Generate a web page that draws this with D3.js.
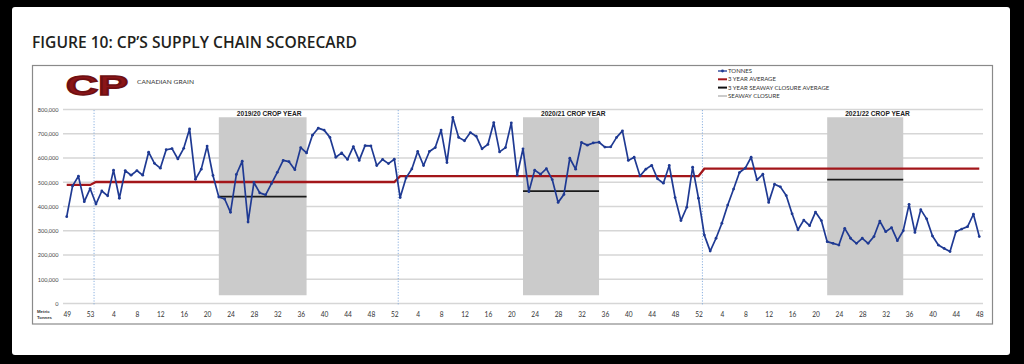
<!DOCTYPE html>
<html><head><meta charset="utf-8">
<script src="https://cdn.jsdelivr.net/npm/d3@7"></script>
<style>html,body{margin:0;padding:0;background:#000;}svg{display:block;}</style>
</head><body>
<svg id="chart" width="1024" height="364"></svg>
<script>
// ---- DATA ----
const weeks = [].concat(d3.range(49, 54), d3.range(1, 53), d3.range(1, 53), d3.range(1, 49));
const tonnes = [
  358000,485000,525000,420000,474000,410000,464000,444000,550000,434000,548000,529000,548000,529000,624000,578000,
  558000,634000,639000,596000,640000,720000,512000,554000,649000,528000,439000,431000,376000,532000,587000,336000,
  499000,456000,448000,494000,541000,590000,585000,552000,643000,621000,694000,723000,715000,685000,603000,621000,
  594000,647000,590000,651000,650000,569000,594000,577000,595000,437000,518000,555000,627000,569000,627000,
  643000,715000,581000,767000,685000,671000,705000,690000,638000,656000,746000,625000,643000,745000,529000,638000,
  461000,550000,533000,556000,511000,417000,450000,599000,554000,664000,653000,662000,665000,645000,646000,
  685000,712000,590000,603000,526000,554000,570000,514000,496000,569000,437000,342000,397000,562000,434000,282000,
  216000,269000,331000,406000,472000,540000,558000,603000,510000,533000,417000,492000,481000,445000,
  370000,304000,344000,321000,377000,342000,255000,248000,241000,310000,269000,248000,269000,248000,276000,340000,
  296000,313000,259000,300000,409000,293000,387000,349000,278000,241000,227000,214000,296000,307000,317000,368000,276000
];
// 3 year average per period: [first index, last index, value]
const avgPeriods = [[0, 4, 489000], [5, 56, 501000], [57, 108, 525000], [109, 156, 556000]];
// crop years: first index of week 1 in each crop year
const cropYearStart = [5, 57, 109];
const cropYearLabels = ["2019/20 CROP YEAR", "2020/21 CROP YEAR", "2021/22 CROP YEAR"];
// seaway closure (weeks within each crop year) and its 3 year average
const seawayStartWeek = [22, 22, 22];
const seawayEndWeek = [37, 35, 35];
const seawayAvg = [441000, 463000, 511000];
const seawayBandTop = 768000, seawayBandBottom = 34000;
const yTicks = [0, 100000, 200000, 300000, 400000, 500000, 600000, 700000, 800000];
const legendItems = ["TONNES", "3 YEAR AVERAGE", "3 YEAR SEAWAY CLOSURE AVERAGE", "SEAWAY CLOSURE"];

// ---- DRAW ----
const svg = d3.select("#chart");
const BLUE = "#1f3a93", RED = "#a3161a", GRAY = "#cbcbcb";

svg.append("rect").attr("x", 0).attr("y", 0).attr("width", 1024).attr("height", 364).attr("fill", "#000");
svg.append("rect").attr("x", 12).attr("y", 7).attr("width", 998).attr("height", 348).attr("rx", 3).attr("fill", "#fff");

svg.append("text").attr("x", 32).attr("y", 48)
  .attr("font-family", "Open Sans, Lato, sans-serif").attr("font-weight", 600).attr("font-size", 15.5)
  .attr("fill", "#231f20").attr("textLength", 325).attr("lengthAdjust", "spacingAndGlyphs")
  .text("FIGURE 10: CP\u2019S SUPPLY CHAIN SCORECARD");

svg.append("rect").attr("x", 32.5).attr("y", 65.5).attr("width", 960).attr("height", 258.5)
  .attr("fill", "#fff").attr("stroke", "#8a8a8a").attr("stroke-width", 1.2);

// logo
svg.append("text").attr("x", 66).attr("y", 95)
  .attr("font-family", "Liberation Sans, Arial, sans-serif").attr("font-weight", 700).attr("font-size", 28)
  .attr("fill", "#8a1518").attr("stroke", "#6e0f12").attr("stroke-width", 1.6).attr("stroke-linejoin", "miter")
  .attr("textLength", 62).attr("lengthAdjust", "spacingAndGlyphs").text("CP");
svg.append("text").attr("x", 137).attr("y", 84)
  .attr("font-family", "Lato, sans-serif").attr("font-size", 6.5).attr("fill", "#333")
  .attr("textLength", 57).attr("lengthAdjust", "spacingAndGlyphs").text("CANADIAN GRAIN");

const x = d3.scalePoint().domain(d3.range(weeks.length)).range([63.8, 982.2]).padding(0.5);
const y = d3.scaleLinear().domain([0, 800000]).range([303.5, 109.5]);
const step = x.step();

// gridlines
svg.append("g").selectAll("line").data(yTicks).join("line")
  .attr("x1", 63).attr("x2", 983).attr("y1", d => y(d)).attr("y2", d => y(d))
  .attr("stroke", "#d6d6d6").attr("stroke-width", 1.4);

// y axis labels
const yAxis = d3.axisLeft(y).tickValues(yTicks).tickFormat(d3.format(",")).tickSize(0).tickPadding(0);
const gy = svg.append("g").attr("transform", "translate(58.5,0)").call(yAxis);
gy.select(".domain").remove();
gy.selectAll("text").attr("font-family", "Lato, sans-serif").attr("font-size", 5.6).attr("fill", "#444");

// seaway closure bands
const seawayX0 = cropYearStart.map((s, i) => x(s + seawayStartWeek[i] - 1));
const seawayX1 = cropYearStart.map((s, i) => x(s + seawayEndWeek[i] - 1));
svg.append("g").selectAll("rect").data(cropYearStart).join("rect")
  .attr("x", (d, i) => seawayX0[i]).attr("width", (d, i) => seawayX1[i] - seawayX0[i])
  .attr("y", y(seawayBandTop)).attr("height", y(seawayBandBottom) - y(seawayBandTop))
  .attr("fill", GRAY);

// crop year boundaries
svg.append("g").selectAll("line").data(cropYearStart).join("line")
  .attr("x1", d => x(d) - step / 2 + 1).attr("x2", d => x(d) - step / 2 + 1)
  .attr("y1", 110).attr("y2", 305)
  .attr("stroke", "#7fa8dc").attr("stroke-width", 0.9).attr("stroke-dasharray", "1.2,1.6");

// crop year labels
svg.append("g").selectAll("text").data(cropYearStart).join("text")
  .attr("x", d => x(d) + 29.6 * step).attr("y", 115.5).attr("text-anchor", "middle")
  .attr("font-family", "Liberation Sans, Arial, sans-serif").attr("font-weight", 700).attr("font-size", 6.6)
  .attr("fill", "#222").text((d, i) => cropYearLabels[i]);

// 3 year average (step line)
const avgPts = [];
avgPeriods.forEach(p => { avgPts.push([x(p[0]), y(p[2])]); avgPts.push([x(p[1]), y(p[2])]); });
svg.append("path").attr("d", d3.line()(avgPts)).attr("fill", "none")
  .attr("stroke", RED).attr("stroke-width", 2.3);

// seaway closure average
svg.append("g").selectAll("line").data(seawayAvg).join("line")
  .attr("x1", (d, i) => seawayX0[i]).attr("x2", (d, i) => seawayX1[i])
  .attr("y1", d => y(d)).attr("y2", d => y(d))
  .attr("stroke", "#1a1a1a").attr("stroke-width", 1.8);

// tonnes
svg.append("path").datum(tonnes).attr("fill", "none").attr("stroke", BLUE).attr("stroke-width", 1.7)
  .attr("stroke-linejoin", "round")
  .attr("d", d3.line().x((d, i) => x(i)).y(d => y(d)));
svg.append("g").selectAll("circle").data(tonnes).join("circle")
  .attr("cx", (d, i) => x(i)).attr("cy", d => y(d)).attr("r", 1.4).attr("fill", BLUE);

// x axis labels
const xAxis = d3.axisBottom(x).tickValues(d3.range(0, weeks.length, 4)).tickFormat(i => weeks[i]).tickSize(0).tickPadding(0);
const gx = svg.append("g").attr("transform", "translate(0,312)").call(xAxis);
gx.select(".domain").remove();
gx.selectAll("text").attr("font-family", "Lato, sans-serif").attr("font-size", 6.6).attr("fill", "#333");
svg.append("text").attr("x", 37).attr("y", 313).attr("font-family", "Liberation Sans, Arial, sans-serif")
  .attr("font-weight", 700).attr("font-size", 4.3).attr("fill", "#333").text("Metric");
svg.append("text").attr("x", 37).attr("y", 319).attr("font-family", "Liberation Sans, Arial, sans-serif")
  .attr("font-weight", 700).attr("font-size", 4.3).attr("fill", "#333").text("Tonnes");

// legend
const lg = svg.append("g").attr("transform", "translate(718,0)");
const rowY = [71, 79.3, 87.6, 96];
lg.append("line").attr("x1", 0).attr("x2", 9).attr("y1", rowY[0]).attr("y2", rowY[0]).attr("stroke", BLUE).attr("stroke-width", 1.3);
lg.append("circle").attr("cx", 4.5).attr("cy", rowY[0]).attr("r", 1.4).attr("fill", BLUE);
lg.append("line").attr("x1", 0).attr("x2", 9).attr("y1", rowY[1]).attr("y2", rowY[1]).attr("stroke", RED).attr("stroke-width", 2);
lg.append("line").attr("x1", 0).attr("x2", 9).attr("y1", rowY[2]).attr("y2", rowY[2]).attr("stroke", "#111").attr("stroke-width", 2);
lg.append("line").attr("x1", 0).attr("x2", 9).attr("y1", rowY[3]).attr("y2", rowY[3]).attr("stroke", GRAY).attr("stroke-width", 2);
lg.selectAll("text").data(legendItems).join("text")
  .attr("x", 10).attr("y", (d, i) => rowY[i] + 2)
  .attr("font-family", "Lato, sans-serif").attr("font-size", 6).attr("fill", "#333").text(d => d);
</script>
</body></html>
